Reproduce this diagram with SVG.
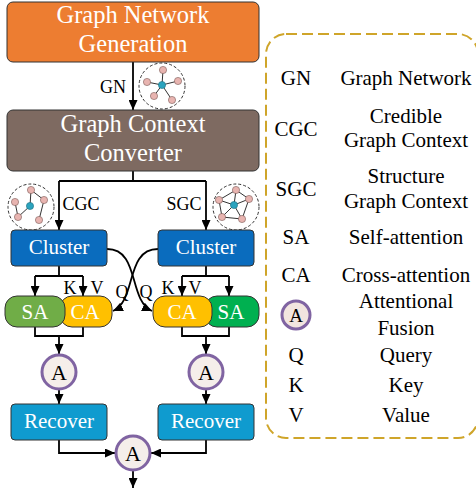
<svg xmlns="http://www.w3.org/2000/svg" width="476" height="491" viewBox="0 0 476 491">
<defs>
<marker id="arr" markerUnits="userSpaceOnUse" markerWidth="11" markerHeight="9" refX="10" refY="4.5" orient="auto">
<path d="M0,0 L10,4.5 L0,9 z" fill="#000"/>
</marker>
<style>
text{font-family:'Liberation Serif','Times New Roman',Times,serif}
.box{stroke:#333;stroke-width:1}
.wt{fill:#fff;text-anchor:middle}
.bt{fill:#000;text-anchor:middle}
.ln{fill:none;stroke:#000;stroke-width:1.8}
.ar{fill:none;stroke:#000;stroke-width:1.8;marker-end:url(#arr)}
.fus{fill:#F5EEEA;stroke:#8064A2;stroke-width:3}
.dc{fill:#fff;stroke:#333;stroke-width:1;stroke-dasharray:3 2}
.pk{fill:#E8B4B0;stroke:#7a5a58;stroke-width:0.6}
.tl{fill:#2BA3BE;stroke:#1f6f80;stroke-width:0.6}
.ed{stroke:#333;stroke-width:1}
</style>
</defs>
<rect width="476" height="491" fill="#fff"/>

<g id="connectors">
<line class="ar" x1="133" y1="62" x2="133" y2="110"/>
<polyline class="ln" points="133,171 133,181"/>
<polyline class="ln" points="59,181 206,181"/>
<line class="ar" x1="59" y1="181" x2="59" y2="230"/>
<line class="ar" x1="206" y1="181" x2="206" y2="230"/>
<polyline class="ln" points="59,266 59,276"/>
<polyline class="ln" points="35,276 83,276"/>
<line class="ar" x1="35" y1="276" x2="35" y2="296"/>
<line class="ar" x1="83" y1="276" x2="83" y2="296"/>
<polyline class="ln" points="206,266 206,276"/>
<polyline class="ln" points="182,276 229,276"/>
<line class="ar" x1="182" y1="276" x2="182" y2="296"/>
<line class="ar" x1="229" y1="276" x2="229" y2="296"/>
<path class="ar" d="M107,249 C140,249 128,300 152,311"/>
<path class="ar" d="M158,249 C125,249 137,300 113,311"/>
<polyline class="ln" points="35,327 35,336 83,336 83,327"/>
<line class="ar" x1="59" y1="336" x2="59" y2="354"/>
<polyline class="ln" points="182,327 182,336 229,336 229,327"/>
<line class="ar" x1="206" y1="336" x2="206" y2="354"/>
<line class="ar" x1="59" y1="390" x2="59" y2="404"/>
<line class="ar" x1="206" y1="390" x2="206" y2="404"/>
<polyline class="ar" points="59,440 59,453 115,453"/>
<polyline class="ar" points="206,440 206,453 151,453"/>
<line class="ar" x1="133" y1="471" x2="133" y2="488"/>
<text class="bt" x="113" y="93" font-size="18">GN</text>
<text class="bt" x="81" y="210" font-size="18">CGC</text>
<text class="bt" x="184" y="210" font-size="18">SGC</text>
<text class="bt" x="70" y="294" font-size="18">K</text>
<text class="bt" x="97" y="294" font-size="18">V</text>
<text class="bt" x="122" y="298" font-size="18">Q</text>
<text class="bt" x="146" y="298" font-size="18">Q</text>
<text class="bt" x="168" y="294" font-size="18">K</text>
<text class="bt" x="195" y="294" font-size="18">V</text>
</g>

<g id="gng">
<rect class="box" x="7" y="2" width="252" height="60" rx="6" fill="#ED7D31"/>
<text class="wt" x="133" y="23" font-size="24.5">Graph Network</text>
<text class="wt" x="133" y="52" font-size="24.5">Generation</text>
</g>

<g id="gcc">
<rect class="box" x="7" y="110" width="252" height="61" rx="6" fill="#7E6A61"/>
<text class="wt" x="133" y="132" font-size="24.5">Graph Context</text>
<text class="wt" x="133" y="161" font-size="24.5">Converter</text>
</g>

<g id="icon-gn">
<circle class="dc" cx="162" cy="86" r="23"/>
<line class="ed" x1="162" y1="85" x2="163" y2="70"/>
<line class="ed" x1="162" y1="85" x2="178" y2="81"/>
<line class="ed" x1="162" y1="85" x2="172" y2="100"/>
<line class="ed" x1="162" y1="85" x2="154" y2="96"/>
<line class="ed" x1="162" y1="85" x2="147" y2="82"/>
<circle class="pk" cx="163" cy="70" r="3.6"/>
<circle class="pk" cx="178" cy="81" r="3.6"/>
<circle class="pk" cx="172" cy="100" r="3.6"/>
<circle class="pk" cx="154" cy="96" r="3.6"/>
<circle class="pk" cx="147" cy="82" r="3.6"/>
<circle class="tl" cx="162" cy="85" r="3.6"/>
</g>

<g id="icon-cgc">
<circle class="dc" cx="31" cy="207" r="23"/>
<line class="ed" x1="31" y1="190" x2="30" y2="206"/>
<line class="ed" x1="31" y1="190" x2="44" y2="200"/>
<line class="ed" x1="44" y1="200" x2="39" y2="220"/>
<line class="ed" x1="15" y1="202" x2="18" y2="217"/>
<line class="ed" x1="18" y1="217" x2="30" y2="206"/>
<circle class="pk" cx="31" cy="190" r="3.6"/>
<circle class="pk" cx="44" cy="200" r="3.6"/>
<circle class="pk" cx="15" cy="202" r="3.6"/>
<circle class="pk" cx="18" cy="217" r="3.6"/>
<circle class="pk" cx="39" cy="220" r="3.6"/>
<circle class="tl" cx="30" cy="206" r="3.6"/>
</g>

<g id="icon-sgc">
<circle class="dc" cx="236" cy="207" r="23"/>
<polygon points="236,190 249,199 242,219 222,217 219,200" fill="none" stroke="#333" stroke-width="1"/>
<line class="ed" x1="234" y1="205" x2="236" y2="190"/>
<line class="ed" x1="234" y1="205" x2="249" y2="199"/>
<line class="ed" x1="234" y1="205" x2="242" y2="219"/>
<line class="ed" x1="234" y1="205" x2="222" y2="217"/>
<line class="ed" x1="234" y1="205" x2="219" y2="200"/>
<circle class="pk" cx="236" cy="190" r="3.6"/>
<circle class="pk" cx="249" cy="199" r="3.6"/>
<circle class="pk" cx="242" cy="219" r="3.6"/>
<circle class="pk" cx="222" cy="217" r="3.6"/>
<circle class="pk" cx="219" cy="200" r="3.6"/>
<circle class="tl" cx="234" cy="205" r="3.6"/>
</g>

<g id="cluster-l">
<rect class="box" x="11" y="230" width="96" height="36" rx="4" fill="#0A6CBE"/>
<text class="wt" x="59" y="254" font-size="21">Cluster</text>
</g>
<g id="cluster-r">
<rect class="box" x="158" y="230" width="96" height="36" rx="4" fill="#0A6CBE"/>
<text class="wt" x="206" y="254" font-size="21">Cluster</text>
</g>

<g id="att-l">
<rect class="box" x="60" y="296" width="52" height="31" rx="12" fill="#FFC000"/>
<rect class="box" x="5" y="296" width="60" height="31" rx="12" fill="#70AD47"/>
<text class="wt" x="35" y="319" font-size="21">SA</text>
<text class="wt" x="85" y="319" font-size="21">CA</text>
</g>
<g id="att-r">
<rect class="box" x="205" y="296" width="54" height="31" rx="12" fill="#00B050"/>
<rect class="box" x="153" y="296" width="59" height="31" rx="12" fill="#FFC000"/>
<text class="wt" x="182" y="319" font-size="21">CA</text>
<text class="wt" x="231" y="319" font-size="21">SA</text>
</g>

<g id="fusion-l">
<circle class="fus" cx="59" cy="372" r="17"/>
<text class="bt" x="59" y="380" font-size="22">A</text>
</g>
<g id="fusion-r">
<circle class="fus" cx="206" cy="372" r="17"/>
<text class="bt" x="206" y="380" font-size="22">A</text>
</g>

<g id="recover-l">
<rect class="box" x="11" y="404" width="96" height="36" rx="4" fill="#0F9BCF"/>
<text class="wt" x="59" y="428" font-size="21">Recover</text>
</g>
<g id="recover-r">
<rect class="box" x="158" y="404" width="96" height="36" rx="4" fill="#0F9BCF"/>
<text class="wt" x="206" y="428" font-size="21">Recover</text>
</g>

<g id="fusion-out">
<circle class="fus" cx="133" cy="453" r="17"/>
<text class="bt" x="133" y="461" font-size="22">A</text>
</g>

<g id="legend">
<rect x="266" y="34" width="212" height="404" rx="20" fill="none" stroke="#CFA52A" stroke-width="2" stroke-dasharray="11 5"/>
<g font-size="21">
<text class="bt" x="296" y="85">GN</text>
<text class="bt" x="406" y="85">Graph Network</text>
<text class="bt" x="296" y="136">CGC</text>
<text class="bt" x="406" y="123">Credible</text>
<text class="bt" x="406" y="147">Graph Context</text>
<text class="bt" x="296" y="196">SGC</text>
<text class="bt" x="406" y="183">Structure</text>
<text class="bt" x="406" y="208">Graph Context</text>
<text class="bt" x="296" y="244">SA</text>
<text class="bt" x="406" y="244">Self-attention</text>
<text class="bt" x="296" y="282">CA</text>
<text class="bt" x="406" y="282">Cross-attention</text>
<circle cx="296" cy="315" r="14" fill="#F2E5DF" stroke="#8064A2" stroke-width="3"/>
<text class="bt" x="296" y="322" font-size="19">A</text>
<text class="bt" x="406" y="308">Attentional</text>
<text class="bt" x="406" y="335">Fusion</text>
<text class="bt" x="296" y="362">Q</text>
<text class="bt" x="406" y="362">Query</text>
<text class="bt" x="296" y="392">K</text>
<text class="bt" x="406" y="392">Key</text>
<text class="bt" x="296" y="422">V</text>
<text class="bt" x="406" y="422">Value</text>
</g>
</g>
</svg>
